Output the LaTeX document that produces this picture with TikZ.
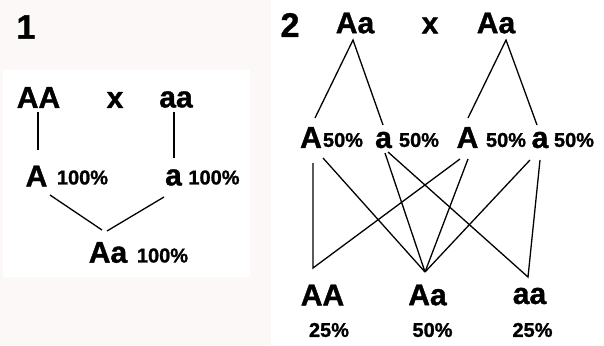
\documentclass[tikz,border=0pt]{standalone}
\usepackage{fontspec}
\setmainfont{Liberation Sans}[BoldFeatures={FakeBold=1.2}]
\usetikzlibrary{calc}
\definecolor{panelpink}{HTML}{FDF8F8}
\tikzset{
  big/.style={inner sep=0pt, font=\fontsize{30}{32}\selectfont\bfseries},
  pct/.style={inner sep=0pt, font=\fontsize{20}{22}\selectfont\bfseries},
  num/.style={inner sep=0pt, font=\fontsize{34}{36}\selectfont\bfseries},
  link/.style={line width=1.3pt, black},
}
\begin{document}
\begin{tikzpicture}[x=1pt,y=-1pt]
\useasboundingbox (0,0) rectangle (604,345);
\fill[white] (0,0) rectangle (604,345);
\fill[panelpink] (0,0) rectangle (271,345);
\fill[white] (3,70) rectangle (250,277);

% ---------- panel 1 ----------
\node[num] (n1) at (26,27) {1};
\node[big] (AA1) at (38.5,97.5) {AA};
\node[big] (x1) at (115,100) {x};
\node[big] (aa1) at (176,99.5) {aa};
\node[big] (A1) at (36.5,176) {A};
\node[pct] (pA1) at (82.5,177.5) {100\%};
\node[big] (a1) at (173.5,177.5) {a};
\node[pct] (pa1) at (214,177.5) {100\%};
\node[big] (Aa1) at (108,252.5) {Aa};
\node[pct] (pAa1) at (162.5,255.5) {100\%};

\coordinate (AA1b) at (38,112);
\coordinate (A1t) at (38,150);
\coordinate (aa1b) at (174,112);
\coordinate (a1t) at (174,158);
\coordinate (A1b) at (50,195);
\coordinate (a1b) at (164,197);
\coordinate (Aa1tl) at (102,230);
\coordinate (Aa1tr) at (107,231);
\draw[link] (AA1b) -- (A1t);
\draw[link] (aa1b) -- (a1t);
\draw[link] (A1b) -- (Aa1tl);
\draw[link] (a1b) -- (Aa1tr);

% ---------- panel 2 ----------
\node[num] (n2) at (290,25) {2};
\node[big] (PL) at (355,23) {Aa};
\node[big] (x2) at (430,25.5) {x};
\node[big] (PR) at (496,23) {Aa};

\node[big] (GA1) at (311,137.5) {A};
\node[pct] (pGA1) at (343,140) {50\%};
\node[big] (Ga1) at (383.5,140) {a};
\node[pct] (pGa1) at (419,140) {50\%};
\node[big] (GA2) at (467.5,137.5) {A};
\node[pct] (pGA2) at (506,140) {50\%};
\node[big] (Ga2) at (540,140) {a};
\node[pct] (pGa2) at (574,140) {50\%};

\node[big] (OAA) at (322.5,295) {AA};
\node[big] (OAa) at (427.5,295) {Aa};
\node[big] (Oaa) at (529.5,296) {aa};
\node[pct] (pOAA) at (329,330) {25\%};
\node[pct] (pOAa) at (432.5,330) {50\%};
\node[pct] (pOaa) at (532.5,330) {25\%};

% connector ends
\coordinate (PLb) at (353,40);
\coordinate (PRb) at (506,40);
\coordinate (GA1t) at (315,118);
\coordinate (Ga1t) at (383,125);
\coordinate (GA2t) at (468,118);
\coordinate (Ga2t) at (537,125);

\coordinate (GA1v) at (313,163);
\coordinate (GA1d) at (323,158);
\coordinate (Ga1s) at (385,153);
\coordinate (Ga1d) at (388,152);
\coordinate (GA2d) at (460,159);
\coordinate (GA2s) at (468,159);
\coordinate (Ga2d) at (530,160);
\coordinate (Ga2v) at (540,160);

\coordinate (OAAt) at (313,268);
\coordinate (OAat) at (425,272);
\coordinate (Oaat) at (528,277);

\draw[link] (GA1t) -- (PLb) -- (Ga1t);
\draw[link] (GA2t) -- (PRb) -- (Ga2t);

\draw[link] (GA1v) -- (OAAt) -- (GA2d);
\draw[link] (GA1d) -- (OAat);
\draw[link] (Ga1s) -- (OAat);
\draw[link] (GA2s) -- (OAat);
\draw[link] (Ga2d) -- (OAat);
\draw[link] (Ga1d) -- (Oaat) -- (Ga2v);
\end{tikzpicture}
\end{document}
